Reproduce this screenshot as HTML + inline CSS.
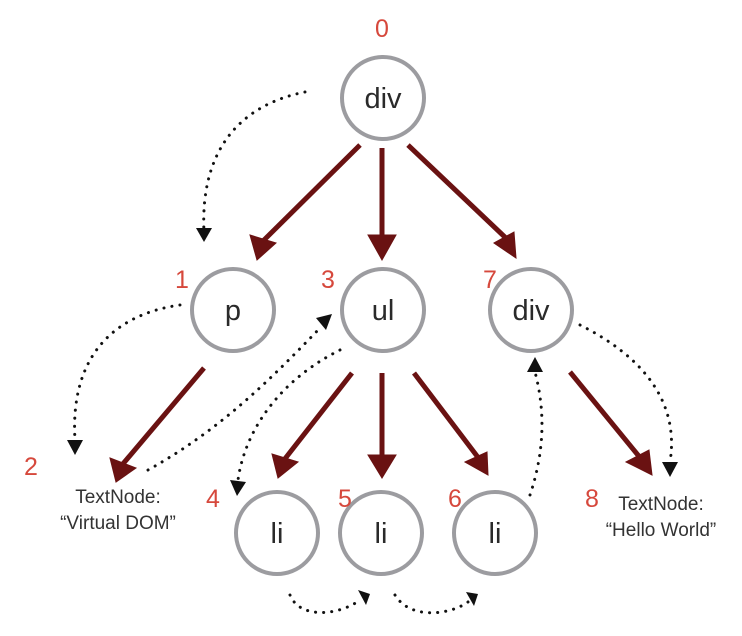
<!DOCTYPE html>
<html><head><style>
html,body{margin:0;padding:0;background:#fff;}
svg{display:block;}
.n{font-family:"Liberation Sans",sans-serif;font-size:29px;fill:#2a2a2a;text-anchor:middle;}
.r{font-family:"Liberation Sans",sans-serif;font-size:25px;fill:#d6483c;text-anchor:middle;}
.t{font-family:"Liberation Sans",sans-serif;font-size:19px;fill:#333;text-anchor:middle;}
</style></head><body>
<svg width="742" height="636" viewBox="0 0 742 636" xmlns="http://www.w3.org/2000/svg">
<g fill="none" stroke="#9c9ca0" stroke-width="4">
<circle cx="383" cy="98" r="41"/>
<circle cx="233" cy="310" r="41"/>
<circle cx="383" cy="310" r="41"/>
<circle cx="531" cy="310" r="41"/>
<circle cx="277" cy="533" r="41"/>
<circle cx="381" cy="533" r="41"/>
<circle cx="495" cy="533" r="41"/>
</g>
<g class="n">
<text x="383" y="108">div</text>
<text x="233" y="320">p</text>
<text x="383" y="320">ul</text>
<text x="531" y="320">div</text>
<text x="277" y="543">li</text>
<text x="381" y="543">li</text>
<text x="495" y="543">li</text>
</g>
<g class="r">
<text x="382" y="37">0</text>
<text x="182" y="288">1</text>
<text x="328" y="288">3</text>
<text x="490" y="288">7</text>
<text x="31" y="475">2</text>
<text x="213" y="507">4</text>
<text x="345" y="507">5</text>
<text x="455" y="507">6</text>
<text x="592" y="507">8</text>
</g>
<g class="t">
<text x="118" y="503">TextNode:</text>
<text x="118" y="529">“Virtual DOM”</text>
<text x="661" y="510">TextNode:</text>
<text x="661" y="536">“Hello World”</text>
</g>
<g stroke="#6a1212" stroke-width="5" fill="none">
<path d="M360,145 L262,242"/>
<path d="M382,148 L382,240"/>
<path d="M408,145 L508,240"/>
<path d="M204,368 L122,465"/>
<path d="M352,373 L284,460"/>
<path d="M382,373 L382,462"/>
<path d="M414,373 L480,460"/>
<path d="M570,372 L642,460"/>
</g>
<g stroke="#6a1212" stroke-width="1" fill="#6a1212">
<path d="M250,235 L276,243 L257,260 z"/>
<path d="M368,235 L396,235 L382,260 z"/>
<path d="M494,243 L514,232 L516,258 z"/>
<path d="M110,458 L136,468 L116,482 z"/>
<path d="M272,454 L298,462 L278,478 z"/>
<path d="M368,455 L396,455 L382,478 z"/>
<path d="M465,462 L487,452 L488,475 z"/>
<path d="M626,462 L649,450 L652,475 z"/>
</g>
<g stroke="#111" stroke-width="3" stroke-dasharray="0.1 8" stroke-linecap="round" fill="none">
<path d="M305,92 C240,105 200,150 204,232"/>
<path d="M180,305 C110,315 70,360 75,440"/>
<path d="M148,470 C220,430 270,380 320,328"/>
<path d="M340,350 C280,380 245,430 238,480"/>
<path d="M530,495 C545,450 545,410 535,372"/>
<path d="M580,325 C640,355 680,400 670,462"/>
<path d="M290,595 C300,620 340,615 360,600"/>
<path d="M395,595 C410,620 450,615 468,602"/>
</g>
<g fill="#111">
<path d="M196,228 L212,228 L204,242 z"/>
<path d="M67,440 L83,440 L75,455 z"/>
<path d="M316,318 L332,314 L326,330 z"/>
<path d="M230,480 L246,482 L237,496 z"/>
<path d="M527,372 L543,372 L535,357 z"/>
<path d="M662,462 L678,462 L670,477 z"/>
<path d="M358,590 L370,594 L366,605 z"/>
<path d="M466,592 L478,594 L474,606 z"/>
</g>
</svg>
</body></html>
